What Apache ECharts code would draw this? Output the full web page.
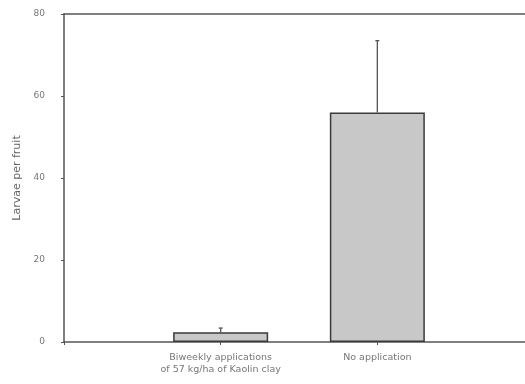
<!DOCTYPE html>
<html><head><meta charset="utf-8">
<script src="https://cdn.jsdelivr.net/npm/echarts@6/dist/echarts.min.js"></script>
<style>html,body{margin:0;padding:0;background:#fff}#c{width:525px;height:384px}</style>
</head><body><div id="c"></div>
<script>
const categories = ["", "Biweekly applications\nof 57 kg/ha of Kaolin clay", "No application", ""];
const means = [null, 2.4, 56, null];
const errorTop = [null, 3.4, 73.5, null];
const yTicks = [0, 20, 40, 60, 80];

const chart = echarts.init(document.getElementById('c'));
const txt = '#777';
const ln = '#555';
const font = 'DejaVu Sans';
const errData = [];
errorTop.forEach((v, i) => { if (v != null) errData.push([i, means[i], v]); });
chart.setOption({
  animation: false,
  grid: {left: 64, width: 470, top: 14, bottom: 42, outerBoundsMode: 'none', containLabel: false},
  xAxis: [{
    type: 'category', data: categories, boundaryGap: false,
    axisLine: {lineStyle: {color: ln, width: 1.5}},
    axisTick: {show: true, length: 3, interval: 0, lineStyle: {color: ln}},
    axisLabel: {color: txt, fontSize: 9.5, fontFamily: font, interval: 0, margin: 10, lineHeight: 12},
  }, {
    type: 'category', data: categories, boundaryGap: false, position: 'top',
    axisLine: {show: true, lineStyle: {color: ln, width: 1.5}},
    axisTick: {show: false}, axisLabel: {show: false}
  }],
  yAxis: {
    type: 'value', min: 0, max: 80, interval: 20,
    name: 'Larvae per fruit', nameLocation: 'middle', nameGap: 37,
    nameTextStyle: {color: '#666', fontSize: 11, fontFamily: font},
    axisLine: {show: true, lineStyle: {color: ln, width: 1.5}},
    axisTick: {show: true, length: 3, lineStyle: {color: ln}},
    splitLine: {show: false},
    axisLabel: {color: txt, fontSize: 9, fontFamily: font, margin: 19,
      formatter: v => yTicks.includes(v) ? String(v) : ''}
  },
  series: [{
    type: 'bar', data: means, barWidth: 95,
    itemStyle: {color: '#c8c8c8', borderColor: '#3a3a3a', borderWidth: 1.5}
  }, {
    type: 'custom',
    data: errData,
    encode: {x: 0, y: [1, 2]},
    renderItem: function (params, api) {
      const x = api.value(0);
      const p0 = api.coord([x, api.value(1)]);
      const p1 = api.coord([x, api.value(2)]);
      return {type: 'group', children: [
        {type: 'line', shape: {x1: p0[0], y1: p0[1], x2: p1[0], y2: p1[1]}, style: {stroke: ln, lineWidth: 1.3}},
        {type: 'line', shape: {x1: p1[0] - 2, y1: p1[1], x2: p1[0] + 2, y2: p1[1]}, style: {stroke: ln, lineWidth: 1.3}}
      ]};
    },
    z: 5
  }]
});
</script></body></html>
